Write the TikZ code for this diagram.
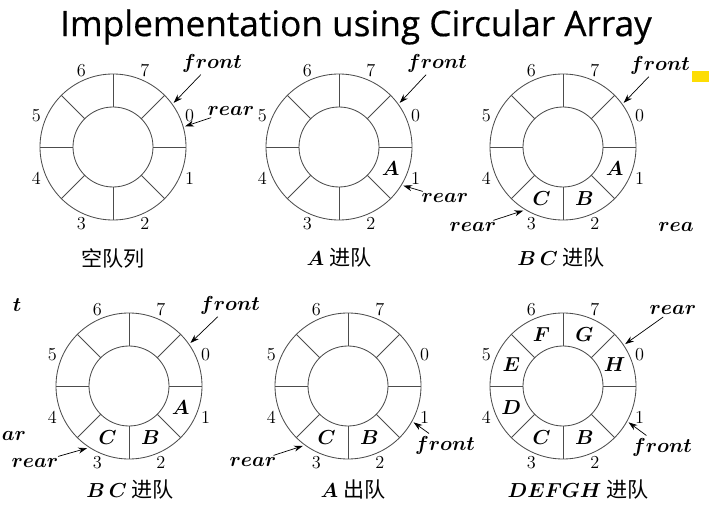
\documentclass[tikz,border=0pt]{standalone}
\usepackage{fontspec}
\usepackage{amsmath, amssymb}
\usepackage{xcolor}
\usepackage{tikz}
\usetikzlibrary{arrows.meta, positioning, calc}
\newfontfamily\cjk{Noto Sans CJK SC}
\newfontfamily\titlefont[FakeBold=0.5]{Open Sans}

\begin{document}
\begin{tikzpicture}[
  x=0.025cm, y=0.025cm,
  ringline/.style={draw=black!70, line width=0.6pt},
  idx/.style={font=\fontsize{13}{13}\selectfont, inner sep=0pt},
  elem/.style={font=\fontsize{15}{15}\selectfont\boldmath, inner sep=0pt},
  ptrlabel/.style={font=\fontsize{14}{14}\selectfont\boldmath, inner sep=1pt},
  ptr/.style={-{Stealth[length=2.2mm, width=1.5mm]}, line width=0.5pt, shorten <=1pt},
  caption/.style={font=\fontsize{15}{15}\selectfont\boldmath\cjk},
]
\useasboundingbox (0,0) rectangle (709,507);

% Title
\node[font=\titlefont\fontsize{25}{28}\selectfont] (title) at (356,480)
  {Implementation using Circular Array};

% Rings with slot numbers
\foreach \n/\cx/\cy in {p1/113/360, p2/339/360, p3/563/360,
                        p4/129/121, p5/348/121, p6/563/121} {
  \coordinate (\n) at (\cx,\cy);
  \draw[ringline] (\n) circle[radius=73] (\n) circle[radius=40];
  \foreach \a in {0,45,...,315}
    \draw[ringline] (\n) ++(\a:40) -- ++(\a:33);
  \foreach \i in {0,...,7}
    \path (\n) ++({22.5-45*\i}:83) node[idx] (\n-i\i) {\i};
}

% Queue elements
\foreach \n/\k/\t in {p2/1/A, p3/1/A, p3/2/B, p3/3/C, p4/1/A, p4/2/B, p4/3/C,
                      p5/2/B, p5/3/C, p6/0/H, p6/2/B, p6/3/C, p6/4/D,
                      p6/5/E, p6/6/F, p6/7/G}
  \path (\n) ++({22.5-45*\k}:56) node[elem] (\n-\t) {$\t$};

% Pointer targets on the rings
\path (p1) ++(36:75)   coordinate (p1-ftip);
\path (p1) ++(16:75)   coordinate (p1-rtip);
\path (p2) ++(36:75)   coordinate (p2-ftip);
\path (p2) ++(-31:75)  coordinate (p2-rtip);
\path (p3) ++(36:75)   coordinate (p3-ftip);
\path (p3) ++(-122:75) coordinate (p3-rtip);
\path (p4) ++(35:75)   coordinate (p4-ftip);
\path (p4) ++(-124:75) coordinate (p4-rtip);
\path (p5) ++(-29:75)  coordinate (p5-ftip);
\path (p5) ++(-127:75) coordinate (p5-rtip);
\path (p6) ++(-29:75)  coordinate (p6-ftip);
\path (p6) ++(34:75)   coordinate (p6-rtip);

% Pointer labels
\node[ptrlabel] (p1-front) at (212,444) {$front$};
\node[ptrlabel] (p1-rear)  at (231,396) {$rear$};
\node[ptrlabel] (p2-front) at (437,444) {$front$};
\node[ptrlabel] (p2-rear)  at (445,309) {$rear$};
\node[ptrlabel] (p3-front) at (660,442) {$front$};
\node[ptrlabel] (p3-rear)  at (473,280) {$rear$};
\node[ptrlabel] (p4-front) at (230,202) {$front$};
\node[ptrlabel] (p4-rear)  at (35,44)   {$rear$};
\node[ptrlabel] (p5-front) at (445,62)  {$front$};
\node[ptrlabel] (p5-rear)  at (253,45)  {$rear$};
\node[ptrlabel] (p6-front) at (662,60)  {$front$};
\node[ptrlabel] (p6-rear)  at (673,197) {$rear$};

\foreach \n in {p1,p2,p3,p4,p5,p6} {
  \draw[ptr] (\n-front) -- (\n-ftip);
  \draw[ptr] (\n-rear)  -- (\n-rtip);
}

% Cut-off pieces at the edges
\node[ptrlabel] (frag-rea) at (676,280) {$rea$};
\node[ptrlabel] (frag-t)   at (17,202)  {$t$};
\node[ptrlabel] (frag-ar)  at (14,71)   {$ar$};
\fill[yellow!80!orange] (692,425) rectangle (709,436);

% Captions
\node[caption] (cap1) at (113,249) {空队列};
\node[caption] (cap2) at (339,249) {$A$ 进队};
\node[caption] (cap3) at (561,249) {$B\,C$ 进队};
\node[caption] (cap4) at (130,17)  {$B\,C$ 进队};
\node[caption] (cap5) at (353,17)  {$A$ 出队};
\node[caption] (cap6) at (578,17)  {$DEFGH$ 进队};
\end{tikzpicture}
\end{document}
